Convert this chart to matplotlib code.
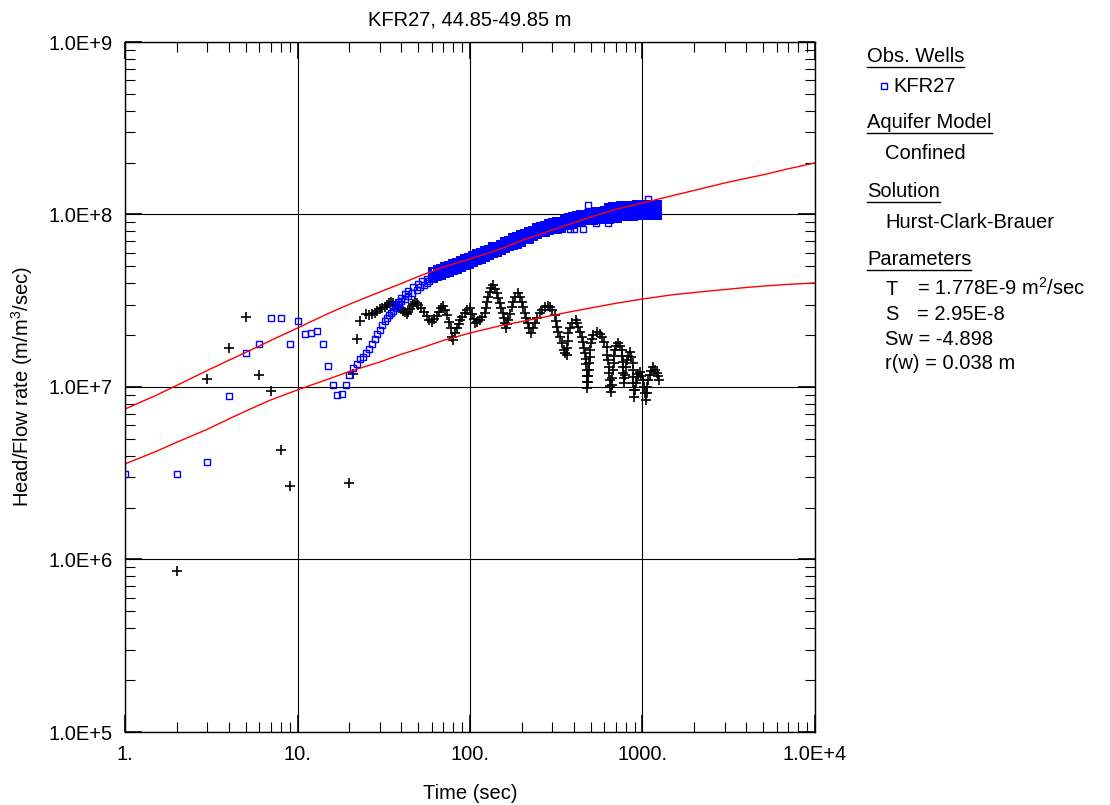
import matplotlib
matplotlib.use("Agg")
import matplotlib.pyplot as plt
from matplotlib.lines import Line2D
from matplotlib.ticker import NullFormatter, LogLocator

plt.rcParams['font.family'] = ['Liberation Sans', 'DejaVu Sans']
plt.rcParams['mathtext.fontset'] = 'custom'
plt.rcParams['mathtext.rm'] = 'Liberation Sans'
plt.rcParams['mathtext.it'] = 'Liberation Sans:italic'

# observed head/flow rate (blue squares), early part
obs_t = [1, 2, 3, 4, 5, 6, 7, 8, 9, 10, 11, 12, 13, 14, 15, 16, 17, 18, 19, 20,
         21, 22, 23, 24, 25, 26, 27, 28, 29, 30, 31, 32, 33, 34, 35, 36, 37, 38, 39, 40,
         42, 44, 46, 49, 51, 54, 56, 58]
obs_h = [3.15e6, 3.13e6, 3.67e6, 8.87e6, 1.57e7, 1.78e7, 2.51e7, 2.51e7, 1.78e7, 2.41e7,
         2.03e7, 2.06e7, 2.11e7, 1.78e7, 1.32e7, 1.03e7, 8.99e6, 9.11e6, 1.03e7, 1.17e7,
         1.29e7, 1.36e7, 1.45e7, 1.49e7, 1.58e7, 1.66e7, 1.78e7, 1.90e7, 2.03e7, 2.14e7,
         2.29e7, 2.41e7, 2.51e7, 2.62e7, 2.69e7, 2.76e7, 2.87e7, 2.99e7, 3.03e7, 3.15e7,
         3.23e7, 3.37e7, 3.51e7, 3.65e7, 3.80e7, 3.90e7, 4.01e7, 4.12e7]
obs_upper_t = [36, 38, 40, 42, 44, 47, 50, 53, 56]
obs_upper_h = [2.95e7, 3.10e7, 3.30e7, 3.45e7, 3.60e7, 3.80e7, 3.95e7, 4.10e7, 4.25e7]

# later observed data form a thick band: upper edge, middle and lower edge
band_t = [60, 64, 67, 71, 75, 79, 83, 88, 92, 97, 103, 108, 114, 121, 127, 134, 142, 149,
          157, 166, 175, 185, 195, 206, 217, 229, 241, 255, 269, 283, 299, 315, 333, 351,
          370, 390, 412, 434, 458, 483, 510, 538, 567, 598, 631, 666, 702, 741, 781, 824,
          870, 917, 967, 1020, 1076, 1135, 1198, 1230]
band_t2 = [61.8, 65.2, 68.8, 72.6, 76.6, 80.7, 85.2, 89.9, 94.8, 100, 105.5, 111.2, 117.4,
           123.8, 130.6, 137.8, 145.3, 153.3, 161.7, 170.6, 179.9, 189.8, 200.2, 211.2,
           222.8, 235.0, 247.9, 261.5, 275.8, 291, 307, 323.7, 341.5, 360.2, 380, 400.9,
           422.8, 446, 470.4, 496.2, 523.4, 552.2, 582.4, 614.3, 648, 683.7, 721.1, 760.7,
           802.4, 846.4, 892.8, 941.7, 993.3, 1047.8, 1105.2, 1166, 1229.6]
band_hi = [4.68e7, 4.80e7, 4.87e7, 5.00e7, 5.07e7, 5.20e7, 5.27e7, 5.42e7, 5.56e7, 5.64e7,
           5.79e7, 5.95e7, 6.03e7, 6.19e7, 6.35e7, 6.53e7, 6.61e7, 6.79e7, 6.98e7, 7.16e7,
           7.36e7, 7.46e7, 7.66e7, 7.86e7, 7.97e7, 8.18e7, 8.41e7, 8.63e7, 8.75e7, 8.87e7,
           8.99e7, 9.11e7, 9.23e7, 9.48e7, 9.61e7, 9.74e7, 9.87e7, 1.00e8, 1.013e8, 1.027e8,
           1.027e8, 1.041e8, 1.041e8, 1.055e8, 1.098e8, 1.113e8, 1.113e8, 1.128e8, 1.128e8,
           1.128e8, 1.128e8, 1.143e8, 1.143e8, 1.143e8, 1.143e8, 1.143e8, 1.143e8, 1.143e8]
band_mid = [4.43e7, 4.55e7, 4.62e7, 4.74e7, 4.80e7, 4.93e7, 5.00e7, 5.13e7, 5.27e7, 5.34e7,
            5.49e7, 5.64e7, 5.71e7, 5.87e7, 6.03e7, 6.19e7, 6.27e7, 6.44e7, 6.61e7, 6.79e7,
            6.98e7, 7.07e7, 7.26e7, 7.46e7, 7.56e7, 7.76e7, 7.97e7, 8.18e7, 8.29e7, 8.41e7,
            8.52e7, 8.63e7, 8.75e7, 8.99e7, 9.11e7, 9.23e7, 9.35e7, 9.48e7, 9.61e7, 9.74e7,
            9.74e7, 9.87e7, 9.87e7, 1.00e8, 1.027e8, 1.041e8, 1.041e8, 1.041e8, 1.041e8,
            1.041e8, 1.041e8, 1.055e8, 1.055e8, 1.055e8, 1.055e8, 1.055e8, 1.055e8, 1.055e8]
band_lo = [4.20e7, 4.32e7, 4.38e7, 4.49e7, 4.55e7, 4.68e7, 4.74e7, 4.87e7, 5.00e7, 5.07e7,
           5.20e7, 5.34e7, 5.42e7, 5.56e7, 5.71e7, 5.87e7, 5.95e7, 6.11e7, 6.27e7, 6.44e7,
           6.61e7, 6.70e7, 6.88e7, 7.07e7, 7.16e7, 7.36e7, 7.56e7, 7.76e7, 7.86e7, 7.97e7,
           8.08e7, 8.18e7, 8.29e7, 8.52e7, 8.63e7, 8.75e7, 8.87e7, 8.99e7, 9.11e7, 9.23e7,
           9.23e7, 9.35e7, 9.35e7, 9.48e7, 9.35e7, 9.48e7, 9.48e7, 9.61e7, 9.61e7, 9.61e7,
           9.61e7, 9.74e7, 9.74e7, 9.74e7, 9.74e7, 9.74e7, 9.74e7, 9.74e7]
outlier_t = [1076, 483, 452, 380, 400, 538, 631]
outlier_h = [1.238e8, 1.128e8, 8.29e7, 8.29e7, 8.29e7, 8.87e7, 8.87e7]

# derivative (black crosses), early part
der_t = [2, 3, 4, 5, 6, 7, 8, 9, 20, 21, 22, 23,
         25, 26, 27, 28, 29, 30, 31, 32, 33, 34, 35, 36, 37, 38, 39, 40, 41, 42, 43, 44,
         45, 46, 47, 48, 49, 50, 52, 54, 56, 58, 60, 62, 64, 66, 68, 70, 72, 74, 76, 78,
         79, 80, 82, 84, 86, 88, 90, 93, 96]
der_h = [8.58e5, 1.11e7, 1.68e7, 2.55e7, 1.17e7, 9.48e6, 4.31e6, 2.67e6, 2.78e6, 1.19e7,
         1.90e7, 2.41e7,
         2.65e7, 2.62e7, 2.65e7, 2.69e7, 2.76e7, 2.83e7, 2.87e7, 2.91e7, 2.99e7, 3.07e7,
         3.11e7, 3.07e7, 2.99e7, 2.91e7, 2.87e7, 2.83e7, 2.76e7, 2.72e7, 2.65e7, 2.72e7,
         2.83e7, 2.95e7, 3.03e7, 3.11e7, 3.07e7, 2.99e7, 2.87e7, 2.72e7, 2.58e7, 2.45e7,
         2.38e7, 2.48e7, 2.58e7, 2.72e7, 2.87e7, 2.95e7, 2.80e7, 2.62e7, 2.38e7, 2.20e7,
         1.95e7, 1.87e7, 2.06e7, 2.20e7, 2.32e7, 2.45e7, 2.55e7, 2.69e7, 2.80e7]

# derivative, oscillating late part (t >= 100 s)
der_late_t = [100, 102.7, 105.5, 106.9, 109.8, 114.3, 117.4, 122.2, 123.8, 125.5, 127.2,
              130.6, 132.4, 135.9, 139.6, 143.4, 145.3, 149.3, 151.3, 155.3, 157.4, 159.6,
              161.7, 163.9, 166.1, 170.6, 175.2, 177.6, 182.4, 189.8, 194.9, 200.2, 202.9,
              208.4, 211.2, 216.9, 219.8, 225.8, 231.9, 238.2, 244.6, 254.6, 261.5, 272.2,
              283.3, 290.9, 298.8, 311.0, 315.2, 319.4, 323.7, 332.5, 341.5, 350.7, 355.4,
              365.0, 365.0, 370.0, 370.0, 380.0, 390.3, 411.7, 417.2, 422.8, 434.3, 446.0,
              452.0, 458.1, 464.2, 470.4, 470.4, 476.8, 476.8, 476.8, 476.8, 483.1, 483.1,
              489.6, 489.6, 496.2, 496.2, 502.9, 509.6, 516.4, 544.7, 567.0, 582.4, 598.2,
              622.5, 622.5, 631.0, 639.4, 639.4, 648.0, 648.0, 656.7, 665.5, 665.5, 674.5,
              683.7, 683.7, 692.9, 702.2, 721.1, 740.7, 760.7, 760.7, 770.9, 770.9, 770.9,
              781.3, 781.3, 791.7, 802.4, 813.2, 824.1, 846.4, 857.7, 881.0, 881.0, 881.0,
              881.0, 892.8, 892.8, 904.8, 917.0, 929.3, 941.7, 967.2, 980.2, 1006.7, 1020.2,
              1033.9, 1047.8, 1061.9, 1061.9, 1076.1, 1105.2, 1120.0, 1150.3, 1181.4,
              1213.3, 1229.6, 1246.1]
der_late_h = [2.871e7, 2.650e7, 2.479e7, 2.350e7, 2.381e7, 2.446e7, 2.546e7, 2.685e7,
              2.871e7, 3.110e7, 3.324e7, 3.553e7, 3.749e7, 3.902e7, 3.700e7, 3.507e7,
              3.281e7, 3.069e7, 2.871e7, 2.685e7, 2.512e7, 2.350e7, 2.198e7, 2.319e7,
              2.446e7, 2.650e7, 2.909e7, 3.110e7, 3.324e7, 3.507e7, 3.324e7, 3.110e7,
              2.909e7, 2.685e7, 2.512e7, 2.350e7, 2.198e7, 2.056e7, 2.198e7, 2.350e7,
              2.512e7, 2.685e7, 2.795e7, 2.909e7, 2.948e7, 2.909e7, 2.795e7, 2.615e7,
              2.413e7, 2.228e7, 2.084e7, 1.950e7, 1.800e7, 1.638e7, 1.574e7, 1.533e7,
              1.683e7, 1.848e7, 2.056e7, 2.198e7, 2.350e7, 2.446e7, 2.350e7, 2.228e7,
              2.084e7, 1.950e7, 1.824e7, 1.683e7, 1.574e7, 1.453e7, 1.359e7, 1.255e7,
              1.158e7, 1.069e7, 9.87e6, 1.069e7, 1.158e7, 1.255e7, 1.378e7, 1.492e7,
              1.638e7, 1.800e7, 1.898e7, 2.002e7, 2.084e7, 2.029e7, 1.950e7, 1.824e7,
              1.706e7, 1.533e7, 1.434e7, 1.306e7, 1.206e7, 1.098e7, 1.013e7, 9.36e6,
              1.027e7, 1.128e7, 1.255e7, 1.378e7, 1.512e7, 1.638e7, 1.729e7, 1.800e7,
              1.729e7, 1.638e7, 1.512e7, 1.396e7, 1.306e7, 1.206e7, 1.128e7, 1.055e7,
              1.174e7, 1.306e7, 1.434e7, 1.512e7, 1.595e7, 1.492e7, 1.378e7, 1.255e7,
              1.143e7, 1.055e7, 9.61e6, 8.75e6, 9.61e6, 1.055e7, 1.143e7, 1.190e7,
              1.222e7, 1.158e7, 1.098e7, 1.0e7, 9.23e6, 8.41e6, 9.23e6, 1.0e7, 1.098e7,
              1.174e7, 1.238e7, 1.306e7, 1.255e7, 1.206e7, 1.158e7, 1.098e7]

# fitted model curves (red)
curve_t = [1, 1.5, 2, 3, 4, 5, 7, 10, 15, 20, 30, 40, 50, 70, 100, 150, 200, 300, 400,
           500, 700, 1000, 1500, 2000, 3000, 4000, 5000, 7000, 10000]
curve_upper = [7.45e6, 8.91e6, 1.023e7, 1.247e7, 1.429e7, 1.585e7, 1.862e7, 2.198e7,
               2.661e7, 3.020e7, 3.556e7, 3.981e7, 4.365e7, 4.955e7, 5.521e7, 6.310e7,
               7.079e7, 8.128e7, 8.95e7, 9.661e7, 1.072e8, 1.167e8, 1.288e8, 1.380e8,
               1.524e8, 1.622e8, 1.698e8, 1.841e8, 1.991e8]
curve_lower = [3.581e6, 4.217e6, 4.786e6, 5.689e6, 6.531e6, 7.244e6, 8.414e6, 9.616e6,
               1.109e7, 1.230e7, 1.396e7, 1.549e7, 1.660e7, 1.862e7, 2.056e7, 2.265e7,
               2.399e7, 2.600e7, 2.754e7, 2.871e7, 3.055e7, 3.236e7, 3.428e7, 3.532e7,
               3.673e7, 3.776e7, 3.846e7, 3.936e7, 4.009e7]

x_ticks = [1, 10, 100, 1000, 10000]
x_labels = ["1.", "10.", "100.", "1000.", "1.0E+4"]
y_ticks = [1e5, 1e6, 1e7, 1e8, 1e9]
y_labels = ["1.0E+5", "1.0E+6", "1.0E+7", "1.0E+8", "1.0E+9"]

W, H = 1110, 805
FS = 14.5


def fx(x):
    return x / W


def fy(y):
    return 1 - y / H


fig = plt.figure(figsize=(W / 100, H / 100), dpi=100)
ax = fig.add_axes([fx(125), fy(732), 690 / W, 690 / H])

blue = '#0000ff'
sq = dict(ls='none', marker='s', mfc='none', mec=blue, ms=4.5, mew=1.0)
sq_band = dict(sq, mew=1.4)
cross = dict(ls='none', marker='+', color='black', ms=7, mew=1.2)

ax.plot(der_t, der_h, **cross)
ax.plot(der_late_t, der_late_h, **cross)
ax.plot(obs_t, obs_h, **sq)
ax.plot(obs_upper_t, obs_upper_h, **sq)
for row in (band_hi, band_mid, band_lo):
    ax.plot(band_t, row, **sq_band)
    ax.plot(band_t2, row[:len(band_t2)], **sq_band)
ax.plot(outlier_t, outlier_h, **sq)
ax.plot(curve_t, curve_upper, color='red', lw=1)
ax.plot(curve_t, curve_lower, color='red', lw=1)

ax.set_xscale('log')
ax.set_yscale('log')
ax.set_xlim(1, 1e4)
ax.set_ylim(1e5, 1e9)
ax.set_xticks(x_ticks, x_labels)
ax.set_yticks(y_ticks, y_labels)
ax.xaxis.set_minor_locator(LogLocator(base=10, subs=range(2, 10)))
ax.yaxis.set_minor_locator(LogLocator(base=10, subs=range(2, 10)))
ax.xaxis.set_minor_formatter(NullFormatter())
ax.yaxis.set_minor_formatter(NullFormatter())
ax.tick_params(which='both', direction='in', top=True, right=True,
               labelsize=FS, pad=9)
ax.tick_params(which='major', length=12, width=1.2)
ax.tick_params(which='minor', length=7, width=0.8)
ax.grid(True, which='major', color='black', lw=0.8)
for s in ax.spines.values():
    s.set_linewidth(1.0)

ax.set_title("KFR27, 44.85-49.85 m", fontsize=FS, pad=12)
fig.text(fx(470), fy(799), "Time (sec)", ha='center', va='baseline', fontsize=FS)
fig.text(fx(22), fy(387), "Head/Flow rate (m/m$^{\\mathrm{3}}$/sec)", rotation=90,
         ha='center', va='center', fontsize=FS)

# side panel
headers = [("Obs. Wells", 62), ("Aquifer Model", 128), ("Solution", 197), ("Parameters", 265)]
items = [("Confined", 159), ("Hurst-Clark-Brauer", 228),
         ("Sw = -4.898", 345), ("r(w) = 0.038 m", 369)]
head_texts = []
for label, y in headers:
    head_texts.append((fig.text(fx(867), fy(y), label, va='baseline', fontsize=FS), y))
for label, y in items:
    fig.text(fx(885), fy(y), label, va='baseline', fontsize=FS)
fig.text(fx(893), fy(92), "KFR27", va='baseline', fontsize=FS)
fig.add_artist(Line2D([fx(884)], [fy(86)], transform=fig.transFigure, **sq))
fig.text(fx(885), fy(295), "T", va='baseline', fontsize=FS)
fig.text(fx(917), fy(295), "= 1.778E-9 m$^{\\mathrm{2}}$/sec", va='baseline', fontsize=FS)
fig.text(fx(885), fy(320), "S", va='baseline', fontsize=FS)
fig.text(fx(917), fy(320), "= 2.95E-8", va='baseline', fontsize=FS)

fig.canvas.draw()
renderer = fig.canvas.get_renderer()
for t, y in head_texts:
    bb = t.get_window_extent(renderer).transformed(fig.transFigure.inverted())
    fig.add_artist(Line2D([bb.x0, bb.x1], [fy(y + 5), fy(y + 5)],
                          transform=fig.transFigure, color='black', lw=1))

fig.savefig("out.png", dpi=100)
